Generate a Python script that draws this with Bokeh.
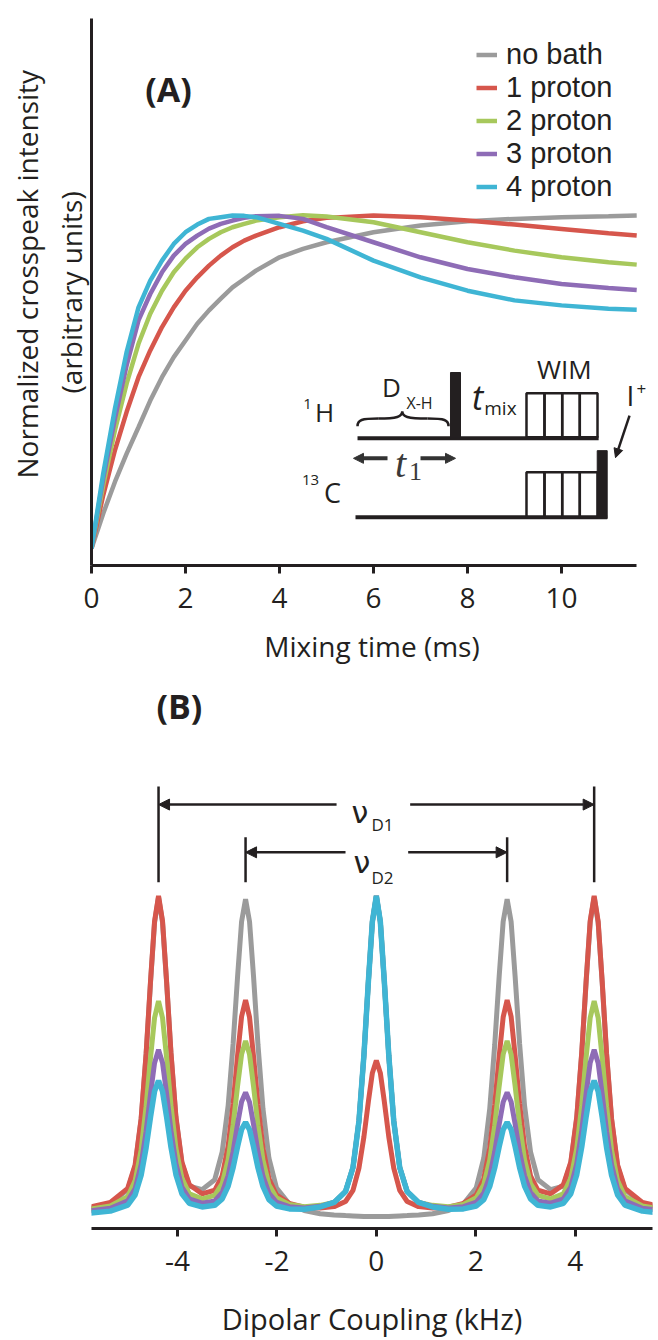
from bokeh.plotting import figure
from bokeh.layouts import column
from bokeh.models import Label, Legend, LegendItem, Arrow, NormalHead, FixedTicker, Range1d, Title
from bokeh.embed import file_html
from bokeh.resources import INLINE

# ---------------- data: panel A ----------------
series_names = ["no bath", "1 proton", "2 proton", "3 proton", "4 proton"]
series_colors = ["#9b9b9b", "#d6564c", "#a7c85c", "#8e6cb6", "#3fb5d4"]
mixing_time_ms = [0, 0.25, 0.5, 0.75, 1, 1.25, 1.5, 1.75, 2, 2.25, 2.5, 2.75, 3, 3.25, 3.5, 4, 4.5, 5,
                  6, 7, 8, 9, 10, 11, 11.6]
a_no_bath = [0, 0.105, 0.2, 0.285, 0.363, 0.443, 0.513, 0.573, 0.623, 0.673, 0.713, 0.748, 0.782, 0.807,
             0.832, 0.872, 0.897, 0.917, 0.947, 0.967, 0.98, 0.987, 0.992, 0.995, 0.997]
a_1_proton = [0, 0.16, 0.295, 0.41, 0.513, 0.593, 0.663, 0.722, 0.772, 0.812, 0.847, 0.877, 0.902, 0.922,
              0.937, 0.962, 0.98, 0.99, 0.997, 0.992, 0.982, 0.97, 0.957, 0.944, 0.937]
a_2_proton = [0, 0.19, 0.355, 0.495, 0.613, 0.703, 0.772, 0.827, 0.868, 0.902, 0.927, 0.947, 0.962, 0.972,
              0.982, 0.992, 0.998, 0.994, 0.977, 0.947, 0.917, 0.892, 0.872, 0.857, 0.85]
a_3_proton = [0, 0.21, 0.39, 0.55, 0.683, 0.762, 0.827, 0.877, 0.912, 0.937, 0.958, 0.972, 0.982, 0.990,
              0.995, 0.996, 0.987, 0.962, 0.917, 0.872, 0.837, 0.812, 0.792, 0.78, 0.774]
a_4_proton = [0, 0.225, 0.42, 0.59, 0.722, 0.802, 0.862, 0.912, 0.947, 0.970, 0.987, 0.992, 0.997, 0.996,
              0.992, 0.972, 0.952, 0.927, 0.862, 0.812, 0.772, 0.743, 0.728, 0.718, 0.715]
mixing_ticks = [0, 2, 4, 6, 8, 10]

# ---------------- data: panel B ----------------
coupling_khz = [-5.75, -5.35, -5.0, -4.85, -4.73, -4.63, -4.54, -4.46, -4.38, -4.30, -4.22, -4.13, -4.03,
                -3.91, -3.76, -3.505, -3.25, -3.10, -2.98, -2.88, -2.79, -2.71, -2.63, -2.55, -2.47, -2.38,
                -2.28, -2.16, -2.01, -1.75, -1.45, -1.13, -0.85, -0.62, -0.47, -0.35, -0.25, -0.16, -0.08,
                0.0,
                0.08, 0.16, 0.25, 0.35, 0.47, 0.62, 0.85, 1.13, 1.45, 1.75, 2.01, 2.16, 2.28, 2.38, 2.47,
                2.55, 2.63, 2.71, 2.79, 2.88, 2.98, 3.10, 3.25, 3.505, 3.76, 3.91, 4.03, 4.13, 4.22, 4.30,
                4.38, 4.46, 4.54, 4.63, 4.73, 4.85, 5.0, 5.35, 5.75]
b_no_bath = [0.026, 0.040, 0.084, 0.158, 0.302, 0.504, 0.733, 0.917, 0.996, 0.918, 0.735, 0.508, 0.307,
             0.166, 0.095, 0.084, 0.115, 0.202, 0.346, 0.540, 0.750, 0.920, 0.990, 0.920, 0.750, 0.535,
             0.336, 0.182, 0.090, 0.039, 0.019, 0.009, 0.005, 0.003, 0.002, 0.001, 0.0, 0.0, 0.0,
             0.0,
             0.0, 0.0, 0.0, 0.001, 0.002, 0.003, 0.005, 0.009, 0.019, 0.039, 0.090, 0.182, 0.336, 0.535,
             0.750, 0.920, 0.990, 0.920, 0.750, 0.540, 0.346, 0.202, 0.115, 0.084, 0.095, 0.166, 0.307,
             0.508, 0.735, 0.918, 0.996, 0.917, 0.733, 0.504, 0.302, 0.158, 0.084, 0.040, 0.026]
b_1_proton = [0.030, 0.044, 0.088, 0.162, 0.306, 0.508, 0.737, 0.921, 1.000, 0.922, 0.739, 0.512, 0.311,
              0.170, 0.099, 0.071, 0.082, 0.127, 0.220, 0.352, 0.503, 0.624, 0.675, 0.622, 0.500, 0.348,
              0.213, 0.118, 0.068, 0.041, 0.029, 0.027, 0.031, 0.047, 0.082, 0.151, 0.249, 0.359, 0.448,
              0.487,
              0.448, 0.359, 0.249, 0.151, 0.082, 0.047, 0.031, 0.027, 0.029, 0.041, 0.068, 0.118, 0.213,
              0.348, 0.500, 0.622, 0.675, 0.624, 0.503, 0.352, 0.220, 0.127, 0.082, 0.071, 0.099, 0.170,
              0.311, 0.512, 0.739, 0.922, 1.000, 0.921, 0.737, 0.508, 0.306, 0.162, 0.088, 0.044, 0.030]
b_2_proton = [0.023, 0.033, 0.062, 0.112, 0.208, 0.344, 0.497, 0.620, 0.672, 0.620, 0.499, 0.347, 0.213,
              0.119, 0.071, 0.055, 0.066, 0.103, 0.178, 0.286, 0.408, 0.506, 0.548, 0.506, 0.407, 0.284,
              0.176, 0.099, 0.059, 0.038, 0.031, 0.035, 0.044, 0.078, 0.153, 0.298, 0.503, 0.734, 0.920,
              1.000,
              0.920, 0.734, 0.503, 0.298, 0.153, 0.078, 0.044, 0.035, 0.031, 0.038, 0.059, 0.099, 0.176,
              0.284, 0.407, 0.506, 0.548, 0.506, 0.408, 0.286, 0.178, 0.103, 0.066, 0.055, 0.071, 0.119,
              0.213, 0.347, 0.499, 0.620, 0.672, 0.620, 0.497, 0.344, 0.208, 0.112, 0.062, 0.033, 0.023]
b_3_proton = [0.018, 0.026, 0.049, 0.087, 0.162, 0.266, 0.384, 0.479, 0.520, 0.480, 0.386, 0.268, 0.165,
              0.092, 0.055, 0.042, 0.049, 0.075, 0.128, 0.203, 0.289, 0.358, 0.387, 0.357, 0.288, 0.202,
              0.126, 0.073, 0.045, 0.031, 0.027, 0.032, 0.044, 0.078, 0.153, 0.298, 0.503, 0.734, 0.920,
              1.000,
              0.920, 0.734, 0.503, 0.298, 0.153, 0.078, 0.044, 0.032, 0.027, 0.031, 0.045, 0.073, 0.126,
              0.202, 0.288, 0.357, 0.387, 0.358, 0.289, 0.203, 0.128, 0.075, 0.049, 0.042, 0.055, 0.092,
              0.165, 0.268, 0.386, 0.480, 0.520, 0.479, 0.384, 0.266, 0.162, 0.087, 0.049, 0.026, 0.018]
b_4_proton = [0.011, 0.017, 0.036, 0.068, 0.129, 0.215, 0.312, 0.391, 0.424, 0.391, 0.313, 0.217, 0.131,
              0.071, 0.041, 0.030, 0.035, 0.055, 0.095, 0.153, 0.219, 0.272, 0.294, 0.271, 0.218, 0.152,
              0.094, 0.053, 0.033, 0.024, 0.023, 0.030, 0.044, 0.078, 0.153, 0.298, 0.503, 0.734, 0.920,
              1.000,
              0.920, 0.734, 0.503, 0.298, 0.153, 0.078, 0.044, 0.030, 0.023, 0.024, 0.033, 0.053, 0.094,
              0.152, 0.218, 0.271, 0.294, 0.272, 0.219, 0.153, 0.095, 0.055, 0.035, 0.030, 0.041, 0.071,
              0.131, 0.217, 0.313, 0.391, 0.424, 0.391, 0.312, 0.215, 0.129, 0.068, 0.036, 0.017, 0.011]
coupling_ticks = [-4, -2, 0, 2, 4]
coupling_tick_labels = ["-4", "-2", "0", "2", "4"]
nu_d1_peaks = [-4.38, 4.38]
nu_d2_peaks = [-2.63, 2.63]

FONT = "Open Sans"
LEGEND_FONT = "Liberation Sans"
INK = "#231f20"


def style_axis(ax, size="28px", label_size="28px"):
    ax.axis_line_width = 3
    ax.axis_line_color = INK
    ax.major_tick_line_width = 3
    ax.major_tick_line_color = INK
    ax.major_tick_out = 8
    ax.major_tick_in = 0
    ax.minor_tick_line_color = None
    ax.major_label_text_font = FONT
    ax.major_label_text_font_size = size
    ax.major_label_text_color = INK
    ax.axis_label_text_font = FONT
    ax.axis_label_text_font_size = label_size
    ax.axis_label_text_font_style = "normal"
    ax.axis_label_text_color = INK


def lab(p, x, y, text, size, style="normal", align="center", baseline="middle", font=FONT, color=INK):
    p.add_layout(Label(x=x, y=y, text=text, text_font=font, text_font_size=size, text_font_style=style,
                       text_align=align, text_baseline=baseline, text_color=color))


# ================= Panel A =================
pA = figure(width=658, height=672, x_range=Range1d(0, 11.936), y_range=Range1d(-0.0509, 1.587),
            output_backend="svg", toolbar_location=None,
            min_border_left=91, min_border_right=6, min_border_top=18, min_border_bottom=107)
pA.outline_line_color = None
pA.xgrid.visible = False
pA.ygrid.visible = False

xa = pA.xaxis[0]
style_axis(xa)
xa.ticker = FixedTicker(ticks=mixing_ticks)
xa.bounds = (0, mixing_time_ms[-1])
xa.major_label_standoff = 14
xa.axis_label = "Mixing time (ms)"
xa.axis_label_standoff = 16

ya = pA.yaxis[0]
style_axis(ya)
ya.ticker = FixedTicker(ticks=[])
ya.major_tick_line_color = None
ya.major_label_text_font_size = "0px"

for txt, off in [("(arbitrary units)", 172), ("Normalized crosspeak intensity", 87)]:
    pA.add_layout(Title(text=txt, align="left", offset=off, text_font=FONT, text_font_size="28px",
                        text_font_style="normal", text_color=INK, standoff=4), "left")

a_series = [a_no_bath, a_1_proton, a_2_proton, a_3_proton, a_4_proton]
# one legend entry per row, rows 33 px apart (top row first)
legend_rows_vy = [494, 461, 428, 395, 362]
for name, vals, col, vy in zip(series_names, a_series, series_colors, legend_rows_vy):
    r = pA.line(mixing_time_ms, vals, line_color=col, line_width=4.5)
    pA.add_layout(Legend(items=[LegendItem(label=name, renderers=[r])], location=(385, vy),
                         glyph_width=21, glyph_height=33, label_height=33, label_standoff=9, spacing=0,
                         padding=0, margin=0, border_line_color=None, background_fill_alpha=0,
                         label_text_font=LEGEND_FONT, label_text_font_size="29px", label_text_color=INK))

lab(pA, 1.64, 1.377, "(A)", "34px", style="bold")

# pulse-sequence inset
pA.segment(x0=[5.66, 5.617], y0=[0.330, 0.0937], x1=[10.79, 10.972], y1=[0.330, 0.0937],
           line_width=4, line_color=INK)
box_l = [9.255, 9.638, 10.015, 10.389]
box_r = [9.638, 10.015, 10.389, 10.766]
pA.quad(left=box_l, right=box_r, bottom=[0.333] * 4, top=[0.465] * 4, fill_color=None,
        line_color=INK, line_width=2.5)
pA.quad(left=box_l, right=box_r, bottom=[0.0937] * 4, top=[0.2284] * 4, fill_color=None,
        line_color=INK, line_width=2.5)
pA.quad(left=[7.638, 10.76], right=[7.851, 10.972], bottom=[0.330, 0.0898], top=[0.527, 0.293],
        fill_color=INK, line_color=INK)
pA.bezier(x0=[5.66, 6.10, 6.611, 7.15], y0=[0.366, 0.389, 0.410, 0.389],
          x1=[6.10, 6.611, 7.15, 7.596], y1=[0.389, 0.410, 0.389, 0.366],
          cx0=[5.66, 6.50, 6.611, 7.51], cy0=[0.385, 0.389, 0.395, 0.389],
          cx1=[5.75, 6.611, 6.72, 7.596], cy1=[0.389, 0.395, 0.389, 0.385],
          line_color=INK, line_width=2.5)
for xs, xe in [(6.298, 5.574), (7.0, 7.745)]:
    pA.add_layout(Arrow(x_start=xs, y_start=0.270, x_end=xe, y_end=0.270, line_width=4, line_color="#333333",
                        end=NormalHead(size=10, fill_color="#333333", line_color="#333333")))
pA.add_layout(Arrow(x_start=11.447, y_start=0.398, x_end=11.149, y_end=0.272, line_width=2.5, line_color=INK,
                    end=NormalHead(size=9, fill_color=INK, line_color=INK)))

lab(pA, 4.957, 0.41, "H", "26px")
lab(pA, 4.596, 0.434, "1", "15px")
lab(pA, 5.128, 0.168, "C", "27px")
lab(pA, 4.66, 0.204, "13", "15px")
lab(pA, 6.383, 0.485, "D", "26px")
lab(pA, 6.979, 0.437, "X-H", "16px")
lab(pA, 8.213, 0.455, "t", "34px", style="italic")
lab(pA, 8.70, 0.422, "mix", "19px")
lab(pA, 10.06, 0.536, "WIM", "26px")
lab(pA, 11.468, 0.461, "I", "28px")
lab(pA, 11.70, 0.479, "+", "17px")
lab(pA, 6.574, 0.254, "t", "40px", style="italic", font="Liberation Serif", color="#3a3a3a")
lab(pA, 6.894, 0.2305, "1", "26px", font="Liberation Serif", color="#3a3a3a")

# ================= Panel B =================
pB = figure(width=658, height=668, x_range=Range1d(-5.728, 5.553), y_range=Range1d(-0.0372, 1.647),
            output_backend="svg", toolbar_location=None,
            min_border_left=77, min_border_right=0, min_border_top=16, min_border_bottom=108)
pB.outline_line_color = None
pB.xgrid.visible = False
pB.ygrid.visible = False
pB.yaxis.visible = False

xb = pB.xaxis[0]
style_axis(xb, label_size="29px")
xb.ticker = FixedTicker(ticks=coupling_ticks)
xb.major_label_overrides = {t: s for t, s in zip(coupling_ticks, coupling_tick_labels)}
xb.major_label_standoff = 14
xb.axis_label = "Dipolar Coupling (kHz)"
xb.axis_label_standoff = 25

b_series = [b_no_bath, b_1_proton, b_2_proton, b_3_proton, b_4_proton]
b_widths = [5, 5, 5, 5, 5.5]
for vals, col, w in zip(b_series, series_colors, b_widths):
    pB.line(coupling_khz, vals, line_color=col, line_width=w)

# coupling markers
pB.segment(x0=nu_d1_peaks, y0=[1.043] * 2, x1=nu_d1_peaks, y1=[1.341] * 2, line_width=2.5, line_color=INK)
pB.segment(x0=nu_d2_peaks, y0=[1.043] * 2, x1=nu_d2_peaks, y1=[1.183] * 2, line_width=2.5, line_color=INK)
for xs, xe, yy in [(-0.8, nu_d1_peaks[0], 1.285), (0.68, nu_d1_peaks[1], 1.285),
                   (-0.62, nu_d2_peaks[0], 1.136), (0.64, nu_d2_peaks[1], 1.136)]:
    pB.add_layout(Arrow(x_start=xs, y_start=yy, x_end=xe, y_end=yy, line_width=2.5, line_color=INK,
                        end=NormalHead(size=11, fill_color=INK, line_color=INK)))
lab(pB, -0.33, 1.260, "ν", "30px", baseline="alphabetic", font="DejaVu Sans")
lab(pB, -0.10, 1.223, "D1", "17px", align="left", baseline="alphabetic")
lab(pB, -0.29, 1.105, "ν", "30px", baseline="alphabetic", font="DejaVu Sans")
lab(pB, -0.10, 1.059, "D2", "17px", align="left", baseline="alphabetic")
lab(pB, -3.96, 1.591, "(B)", "34px", style="bold")

layout = column(pA, pB, spacing=0)
open("out.html", "w").write(file_html(layout, INLINE))
